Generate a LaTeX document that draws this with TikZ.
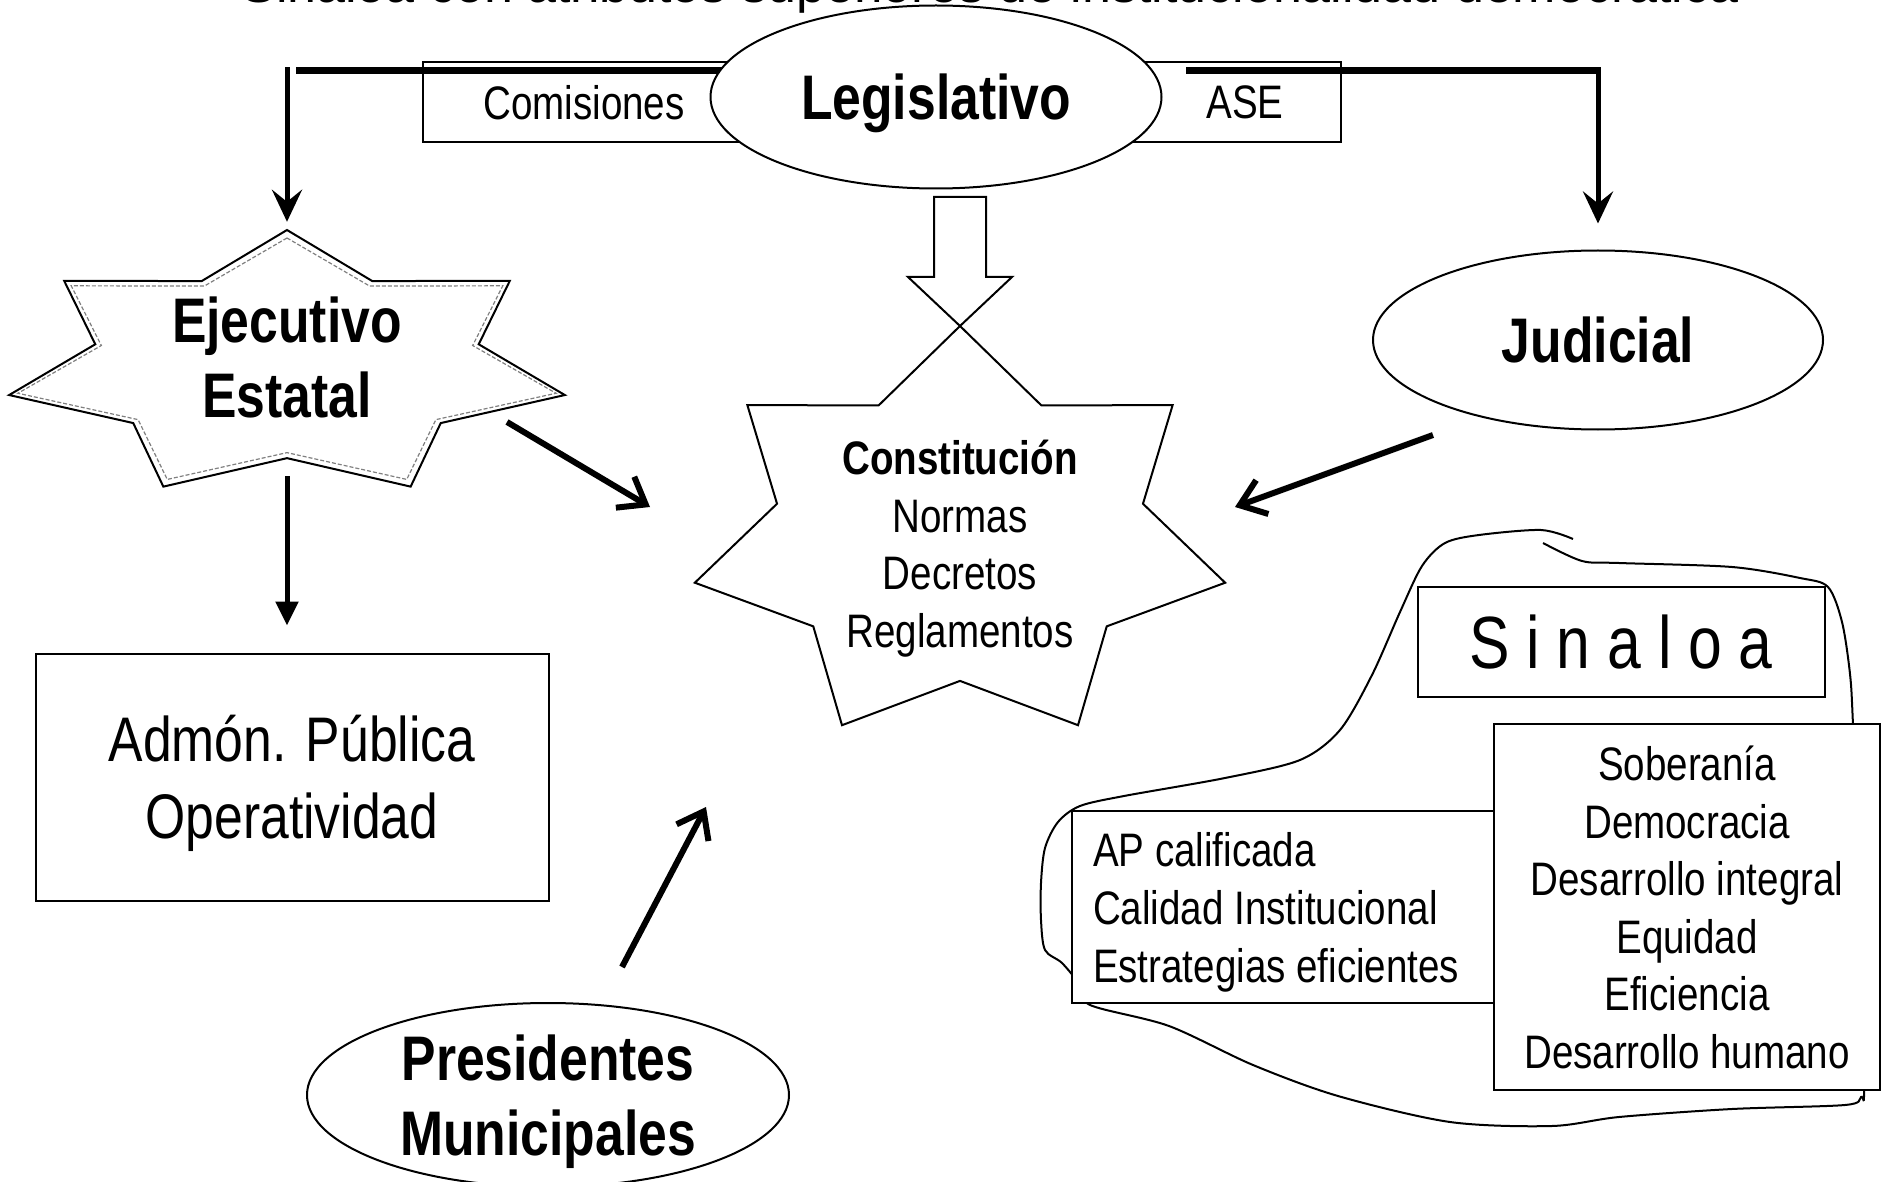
\documentclass[tikz,border=0pt]{standalone}
\usepackage{fontspec}
\setmainfont{Liberation Sans}[FakeStretch=0.82]
\newfontfamily\titlefont{Liberation Sans}
\usepackage{tikz}
\usetikzlibrary{arrows.meta,calc,shapes.geometric,backgrounds}
\tikzset{
  boldtext/.style={font={\fontsize{63}{75}\selectfont\bfseries},align=center,text depth=0pt},
  midtext/.style={font={\fontsize{47}{57.5}\selectfont},align=center,text depth=0pt},
  box/.style={rectangle,draw=black,line width=2pt,fill=white},
  oval/.style={ellipse,draw=black,line width=2pt,fill=white},
  starline/.style={draw=black,line width=2pt,line join=miter},
  bar/.style={line width=7pt},
  drop/.style={line width=5pt,-{Stealth[length=32pt,width=30pt,inset=12pt]}},
  fall/.style={line width=5pt,-{Triangle[length=24pt,width=22pt]}},
  push/.style={line width=6pt,-{Straight Barb[length=24pt,width=36pt]}}
}
\newcommand{\starcorners}[4]{%
  \foreach \i in {0,...,13}{%
    \pgfmathsetmacro\fac{1-0.31*mod(\i,2)}%
    \coordinate (#1\i) at ($(#2)+({#3*\fac*cos(90+\i*360/14)},{#4*\fac*sin(90+\i*360/14)})$);
  }}
\begin{document}
\begin{tikzpicture}[x=1pt,y=1pt,every node/.append style={inner sep=0pt}]
\useasboundingbox (0,0) rectangle (1883,-1182);
\clip (0,0) rectangle (1883,-1182);
\node[font={\titlefont\fontsize{52}{60}\selectfont},anchor=base] (titulo) at (990,-3) {Sinaloa con atributos superiores de institucionalidad democrática};

\node[oval,minimum width=451,minimum height=183,boldtext] (legislativo) at (936,-97) {Legislativo};
\coordinate (barL) at (288,-71);
\coordinate (barR) at (1186,-71);
\begin{scope}[on background layer]
\node[box,minimum width=322,minimum height=80,midtext] (comisiones) at (584,-102) {Comisiones};
\node[box,minimum width=213,minimum height=80,midtext,text width=98,align=right] (ase) at (1234.5,-102) {ASE};
\draw[bar] ([xshift=8]barL) -- (barL -| legislativo.center);
\end{scope}

\node[oval,minimum width=450,minimum height=179,boldtext] (judicial) at (1598,-340) {Judicial};
\coordinate (dropR) at (barR -| judicial.north);
\draw[bar] (barR) -- ([xshift=2.5]dropR);
\draw[drop] ([yshift=3.5]dropR) -- ([yshift=26]judicial.north);

\node[ellipse,minimum width=570,minimum height=270,boldtext] (ejecutivo) at (287,-357) {Ejecutivo\\Estatal};
\coordinate (ejc) at ([yshift=-8]ejecutivo.center);
\starcorners{ej}{ejc}{285}{135}
\starcorners{ejb}{ejc}{276}{127}
\draw[starline] (ej0) \foreach \i in {1,...,13}{-- (ej\i)} -- cycle;
\draw[gray,line width=1.2pt,dash pattern=on 4pt off 2pt] (ejb0) \foreach \i in {1,...,13}{-- (ejb\i)} -- cycle;
\coordinate (dropL) at (barL -| ejecutivo.north);
\draw[drop] ([yshift=3.5]dropL) -- (ejecutivo.north);

\node[midtext] (constitucion) at (960,-544) {\textbf{Constitución}\\Normas\\Decretos\\Reglamentos};
\coordinate (coc) at (960,-536);
\starcorners{co}{coc}{272}{210}
\draw[starline] (co0) \foreach \i in {1,...,13}{-- (co\i)} -- cycle;
\draw[line width=2pt,line join=miter] (co0) -- ++(-52,49) -- ++(26,0) -- ++(0,80) -- ++(52,0) -- ++(0,-80) -- ++(26,0) -- cycle;

\node[box,minimum width=513,minimum height=247,font={\fontsize{63}{77}\selectfont},align=center,text depth=0pt] (admon) at (292,-777) {Admón. Pública\\Operatividad};
\coordinate (ejbase) at ([yshift=-119]ejecutivo.center);
\draw[fall,shorten >=27] (ejbase) -- (ejbase |- admon.north);

\node[oval,minimum width=482,minimum height=184,boldtext] (presidentes) at (548,-1095) {Presidentes\\Municipales};

\coordinate (ejout) at (507,-422);
\coordinate (coleft) at (650,-507);
\coordinate (juout) at (1433,-435);
\coordinate (coright) at (1235,-507);
\coordinate (prout) at (622,-967);
\coordinate (cobottom) at (706,-807);
\draw[push] (ejout) -- (coleft);
\draw[push] (juout) -- (coright);
\draw[push] (prout) -- (cobottom);

\draw[line width=2pt] plot[smooth,tension=0.5] coordinates {(1543,-543) (1582,-561) (1619,-563) (1732,-567) (1800,-578) (1828,-587) (1842,-622) (1850,-674) (1853,-725) (1860,-900) (1864,-1085) (1861,-1097) (1845,-1105) (1732,-1109) (1619,-1117) (1552,-1126) (1450,-1122) (1338,-1096) (1253,-1065) (1169,-1026) (1090,-1005) (1080,-985) (1062,-963) (1045,-950) (1041,-920) (1041,-883) (1045,-848) (1058,-822) (1080,-806) (1124,-796) (1225,-778) (1300,-760) (1340,-730) (1372,-675) (1400,-612) (1422,-566) (1445,-543) (1479,-535) (1541,-530) (1573,-539)};
\node[box,minimum width=407,minimum height=110,font={\fontsize{74}{80}\selectfont},text depth=0pt] (sinaloa) at (1621,-642) {S i n a l o a};
\node[box,minimum width=422,minimum height=192,font={\fontsize{47}{58}\selectfont},text width=380,align=flush left] (calidad) at (1283,-907) {AP calificada\\Calidad Institucional\\\smash{Estrategias eficientes}};
\node[box,minimum width=386,minimum height=366,midtext] (valores) at (1687,-907) {Soberanía\\Democracia\\Desarrollo integral\\Equidad\\Eficiencia\\Desarrollo humano};
\end{tikzpicture}
\end{document}
